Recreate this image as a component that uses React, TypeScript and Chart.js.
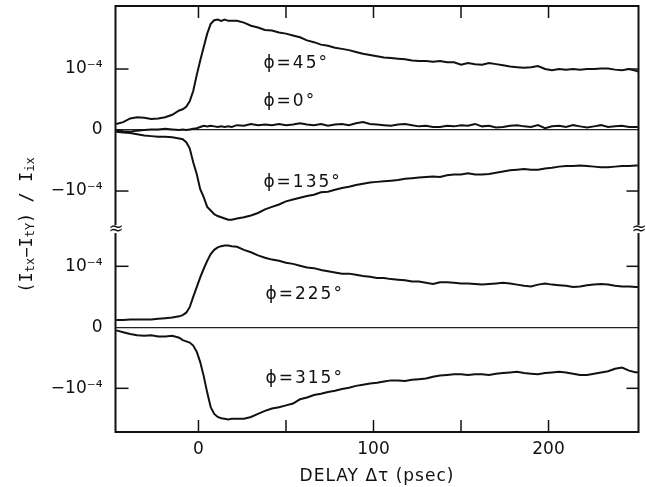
import React, { useEffect, useRef } from "react";
import { Chart, registerables } from "chart.js";

Chart.register(...registerables);

// Delay axis samples (psec)
const DELAY = [
  -47, -43, -39, -35, -31, -27, -23, -19, -15, -11,
  -9, -7, -5, -3, -1, 1, 3, 5, 7, 9, 11, 13, 15, 17, 19,
  22, 26, 30, 34, 38, 42, 46, 50, 54, 58,
  62, 66, 70, 74, 78, 82, 86, 90, 94, 98,
  102, 106, 110, 114, 118, 122, 126, 130, 134, 138,
  142, 146, 150, 154, 158, 162, 166, 170, 174, 178,
  182, 186, 190, 194, 198, 202, 206, 210, 214, 218,
  222, 226, 230, 234, 238, 242, 246, 250,
  251,
];

// Signals in units of 1e-4
const PHI_45 = [
  0.10, 0.13, 0.19, 0.21, 0.20, 0.18, 0.19, 0.21, 0.25, 0.32,
  0.34, 0.38, 0.47, 0.64, 0.90, 1.14, 1.36, 1.58, 1.74, 1.80, 1.81, 1.79, 1.81, 1.79, 1.79,
  1.79, 1.76, 1.71, 1.68, 1.64, 1.63, 1.60, 1.58, 1.55, 1.52,
  1.47, 1.44, 1.40, 1.38, 1.35, 1.33, 1.31, 1.28, 1.25, 1.23,
  1.21, 1.19, 1.18, 1.17, 1.16, 1.14, 1.13, 1.13, 1.12, 1.13,
  1.11, 1.11, 1.07, 1.10, 1.08, 1.07, 1.10, 1.08, 1.06, 1.04,
  1.03, 1.02, 1.03, 1.05, 1.00, 0.98, 1.00, 0.99, 1.00, 0.99,
  1.00, 1.00, 1.01, 1.01, 0.99, 0.98, 1.00, 0.97,
  0.96,
];

const PHI_0 = [
  0.00, -0.02, -0.03, -0.01, 0.00, 0.01, 0.01, 0.02, 0.01, 0.00,
  0.01, 0.00, 0.01, 0.02, 0.03, 0.05, 0.07, 0.06, 0.07, 0.06, 0.05, 0.06, 0.05, 0.06, 0.05,
  0.08, 0.07, 0.10, 0.08, 0.09, 0.08, 0.10, 0.08, 0.09, 0.11,
  0.09, 0.08, 0.10, 0.07, 0.09, 0.10, 0.08, 0.11, 0.13, 0.10,
  0.09, 0.08, 0.07, 0.09, 0.10, 0.08, 0.06, 0.07, 0.05, 0.05,
  0.07, 0.06, 0.08, 0.07, 0.10, 0.06, 0.07, 0.04, 0.05, 0.07,
  0.08, 0.06, 0.05, 0.08, 0.03, 0.06, 0.07, 0.05, 0.08, 0.06,
  0.04, 0.06, 0.08, 0.05, 0.06, 0.07, 0.05, 0.05,
  0.05,
];

const PHI_135 = [
  -0.03, -0.04, -0.05, -0.07, -0.09, -0.10, -0.11, -0.11, -0.12, -0.14,
  -0.15, -0.20, -0.30, -0.53, -0.72, -0.97, -1.10, -1.26, -1.32, -1.38, -1.41, -1.43, -1.45, -1.47, -1.47,
  -1.45, -1.43, -1.40, -1.36, -1.30, -1.26, -1.22, -1.17, -1.14, -1.11,
  -1.08, -1.06, -1.02, -1.01, -0.98, -0.95, -0.93, -0.90, -0.88, -0.86,
  -0.85, -0.84, -0.83, -0.82, -0.80, -0.79, -0.78, -0.77, -0.76, -0.77,
  -0.74, -0.73, -0.73, -0.71, -0.73, -0.73, -0.72, -0.70, -0.68, -0.66,
  -0.65, -0.64, -0.65, -0.65, -0.63, -0.62, -0.60, -0.59, -0.59, -0.58,
  -0.59, -0.60, -0.61, -0.61, -0.60, -0.59, -0.59, -0.58,
  -0.58,
];

const PHI_225 = [
  0.12, 0.12, 0.13, 0.13, 0.13, 0.13, 0.14, 0.15, 0.16, 0.18,
  0.20, 0.24, 0.33, 0.50, 0.66, 0.82, 0.96, 1.09, 1.20, 1.27, 1.31, 1.33, 1.34, 1.34, 1.33,
  1.32, 1.27, 1.23, 1.18, 1.14, 1.11, 1.09, 1.06, 1.04, 1.01,
  0.98, 0.97, 0.94, 0.92, 0.90, 0.88, 0.88, 0.86, 0.84, 0.83,
  0.81, 0.81, 0.79, 0.78, 0.77, 0.75, 0.75, 0.73, 0.71, 0.74,
  0.74, 0.73, 0.72, 0.72, 0.71, 0.70, 0.71, 0.72, 0.73, 0.72,
  0.70, 0.68, 0.67, 0.70, 0.72, 0.70, 0.69, 0.68, 0.66, 0.67,
  0.69, 0.70, 0.71, 0.70, 0.68, 0.67, 0.67, 0.66,
  0.66,
];

const PHI_315 = [
  -0.05, -0.08, -0.11, -0.13, -0.14, -0.13, -0.15, -0.15, -0.14, -0.17,
  -0.21, -0.23, -0.25, -0.30, -0.40, -0.57, -0.80, -1.07, -1.31, -1.42, -1.47, -1.49, -1.50, -1.51, -1.50,
  -1.50, -1.50, -1.47, -1.42, -1.37, -1.33, -1.31, -1.28, -1.25, -1.18,
  -1.15, -1.11, -1.09, -1.06, -1.04, -1.01, -0.99, -0.96, -0.94, -0.92,
  -0.91, -0.89, -0.87, -0.87, -0.88, -0.86, -0.85, -0.84, -0.81, -0.79,
  -0.78, -0.77, -0.77, -0.78, -0.77, -0.77, -0.78, -0.76, -0.75, -0.74,
  -0.73, -0.75, -0.76, -0.77, -0.75, -0.74, -0.73, -0.74, -0.76, -0.78,
  -0.78, -0.76, -0.74, -0.72, -0.68, -0.66, -0.71, -0.74,
  -0.73,
];

// Tick labels
const X_TICK_LABELS = [0, 100, 200];
const X_TICK_MARKS = [0, 50, 100, 150, 200];
const Y_TICK_VALUES = [-1, 0, 1];
const Y_TICK_TEXT = ["\u221210\u207B\u2074", "0", "10\u207B\u2074"];

// Axis ranges and panel offset (upper panel zero sits at UPPER_OFFSET on the shared axis)
const UPPER_OFFSET = 3.234;
const BREAK_AT = 1.61;
const X_MIN = -47.4;
const X_MAX = 251.4;
const Y_MIN = -1.716;
const Y_MAX = 5.267;

// Curve annotations (delay, value, panel)
const CURVE_LABELS = [
  { text: "\u03D5=45\u00B0", t: 37.1, v: 1.01, upper: true },
  { text: "\u03D5=0\u00B0", t: 37.1, v: 0.39, upper: true },
  { text: "\u03D5=135\u00B0", t: 37.1, v: -0.93, upper: true },
  { text: "\u03D5=225\u00B0", t: 38.3, v: 0.47, upper: false },
  { text: "\u03D5=315\u00B0", t: 38.3, v: -0.92, upper: false },
];

const INK = "#111";
const SANS = "'DejaVu Sans', sans-serif";
const MONO = "'DejaVu Sans Mono', monospace";

const decor = {
  id: "decor",
  afterDatasetsDraw(chart: any) {
    const { ctx, chartArea: a } = chart;
    const x = chart.scales.x;
    const y = chart.scales.y;
    const line = (x1: number, y1: number, x2: number, y2: number) => {
      ctx.beginPath();
      ctx.moveTo(x1, y1);
      ctx.lineTo(x2, y2);
      ctx.stroke();
    };
    ctx.save();
    ctx.strokeStyle = INK;
    ctx.fillStyle = INK;
    ctx.lineWidth = 2;
    ctx.strokeRect(a.left, a.top, a.right - a.left, a.bottom - a.top);

    ctx.lineWidth = 1.5;
    for (const t of X_TICK_MARKS) {
      const px = x.getPixelForValue(t);
      line(px, a.top, px, a.top + 12);
      line(px, a.bottom, px, a.bottom - 12);
    }
    for (const off of [0, UPPER_OFFSET]) {
      for (const v of [-1, 1]) {
        const py = y.getPixelForValue(v + off);
        line(a.left, py, a.left + 13, py);
        line(a.right, py, a.right - 12, py);
      }
    }

    // axis break marks
    const bp = y.getPixelForValue(BREAK_AT);
    for (const bx of [a.left, a.right]) {
      ctx.fillStyle = "#fff";
      ctx.fillRect(bx - 3, bp - 4, 6, 8);
      ctx.fillStyle = INK;
      ctx.font = `18px ${SANS}`;
      ctx.textAlign = "center";
      ctx.textBaseline = "middle";
      ctx.fillText("\u2248", bx + 0.5, bp);
    }

    // curve labels
    ctx.font = `17px ${SANS}`;
    (ctx as any).letterSpacing = "2px";
    ctx.textAlign = "left";
    ctx.textBaseline = "alphabetic";
    for (const l of CURVE_LABELS) {
      const px = x.getPixelForValue(l.t);
      const py = y.getPixelForValue(l.v + (l.upper ? UPPER_OFFSET : 0));
      ctx.fillText(l.text, px, py);
    }

    // x title
    (ctx as any).letterSpacing = "1px";
    ctx.textAlign = "center";
    ctx.fillText("DELAY \u0394\u03C4 (psec)", (a.left + a.right) / 2, a.bottom + 49);

    // y title with subscripts, rotated
    (ctx as any).letterSpacing = "0px";
    const parts: [string, boolean][] = [
      ["(", false], ["I", false], ["tx", true], ["\u2212", false], ["I", false],
      ["tY", true], [")", false], [" / ", false], ["I", false], ["ix", true],
    ];
    const mainFont = `17px ${MONO}`;
    const subFont = `12px ${MONO}`;
    let total = 0;
    for (const [s, sub] of parts) {
      ctx.font = sub ? subFont : mainFont;
      total += ctx.measureText(s).width;
    }
    ctx.translate(a.left - 83.5, (a.top + a.bottom) / 2 + 6);
    ctx.rotate(-Math.PI / 2);
    ctx.textAlign = "left";
    let cx = -total / 2;
    for (const [s, sub] of parts) {
      ctx.font = sub ? subFont : mainFont;
      ctx.fillText(s, cx, sub ? 2 : 0);
      cx += ctx.measureText(s).width;
    }
    ctx.restore();
  },
};

export default function App() {
  const ref = useRef<HTMLCanvasElement>(null);

  useEffect(() => {
    const canvas = ref.current;
    if (!canvas) return;
    const series = (label: string, vals: number[], off: number) => ({
      label,
      data: DELAY.map((t, i) => ({ x: t, y: vals[i] + off })),
      borderColor: INK,
      borderWidth: 2,
      pointRadius: 0,
      tension: 0,
      fill: false,
    });
    const isZero = (v: number) =>
      Math.abs(v) < 1e-6 || Math.abs(v - UPPER_OFFSET) < 1e-6;

    const chart = new Chart(canvas, {
      type: "line",
      data: {
        datasets: [
          series("\u03D5=45\u00B0", PHI_45, UPPER_OFFSET),
          series("\u03D5=0\u00B0", PHI_0, UPPER_OFFSET),
          series("\u03D5=135\u00B0", PHI_135, UPPER_OFFSET),
          series("\u03D5=225\u00B0", PHI_225, 0),
          series("\u03D5=315\u00B0", PHI_315, 0),
        ],
      },
      options: {
        animation: false,
        responsive: false,
        devicePixelRatio: 1,
        layout: { padding: { top: 6, right: 7.5, left: 0, bottom: 0 } },
        plugins: { legend: { display: false }, tooltip: { enabled: false } },
        scales: {
          x: {
            type: "linear",
            min: X_MIN,
            max: X_MAX,
            afterBuildTicks: (s: any) => {
              s.ticks = X_TICK_LABELS.map((v) => ({ value: v }));
            },
            afterFit: (s: any) => {
              s.height = 55;
              s.paddingLeft = 0;
              s.paddingRight = 0;
            },
            grid: { display: false, drawTicks: false },
            border: { display: false },
            ticks: {
              font: { family: SANS, size: 17 },
              color: INK,
              padding: 7,
              maxRotation: 0,
              autoSkip: false,
            },
          },
          y: {
            type: "linear",
            min: Y_MIN,
            max: Y_MAX,
            afterBuildTicks: (s: any) => {
              s.ticks = [
                ...Y_TICK_VALUES.map((v) => ({ value: v })),
                ...Y_TICK_VALUES.map((v) => ({ value: v + UPPER_OFFSET })),
              ];
            },
            afterFit: (s: any) => {
              s.width = 115.5;
              s.paddingTop = 0;
              s.paddingBottom = 0;
            },
            grid: {
              drawTicks: false,
              lineWidth: 1.2,
              color: (c: any) =>
                c.tick && isZero(c.tick.value) ? "#222" : "rgba(0,0,0,0)",
            },
            border: { display: false },
            ticks: {
              font: { family: SANS, size: 17 },
              color: INK,
              padding: 13,
              autoSkip: false,
              callback: (v: any) => {
                const n = Number(v);
                const r = Math.round(n > UPPER_OFFSET - 1.5 ? n - UPPER_OFFSET : n);
                return Y_TICK_TEXT[r + 1];
              },
            },
          },
        },
      } as any,
      plugins: [decor],
    });
    return () => chart.destroy();
  }, []);

  return (
    <div style={{ position: "fixed", left: 0, top: 0, width: 646, height: 487, background: "#fff" }}>
      <canvas ref={ref} width={646} height={487} style={{ display: "block" }} />
    </div>
  );
}
